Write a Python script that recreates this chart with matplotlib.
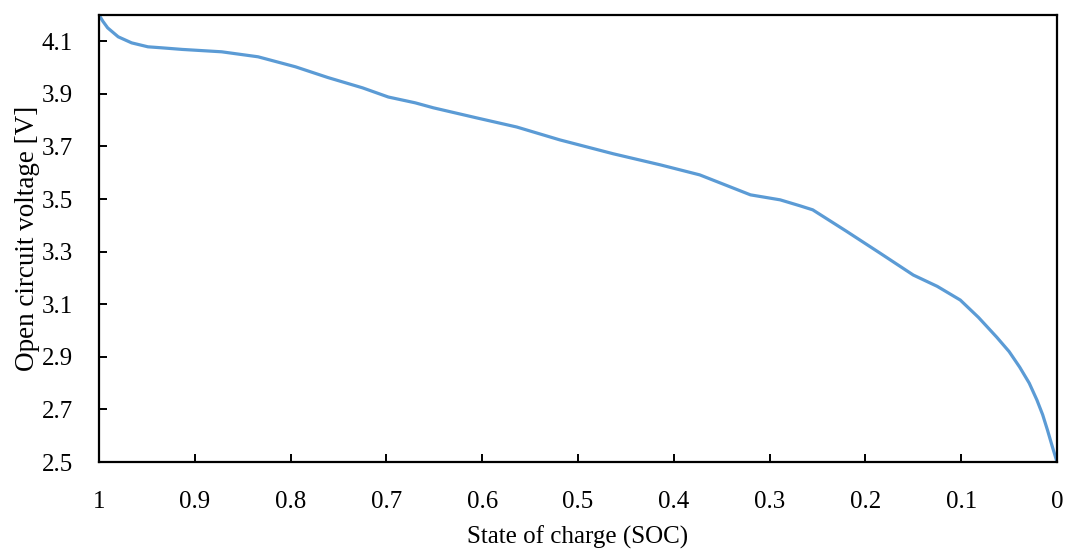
import numpy as np
import matplotlib
matplotlib.use('Agg')
import matplotlib.pyplot as plt

plt.rcParams['font.family'] = ['Liberation Serif', 'DejaVu Serif']

# open circuit voltage against state of charge
soc = [1.0, 0.996, 0.991, 0.980, 0.966, 0.949, 0.934, 0.913, 0.872, 0.834,
       0.795, 0.761, 0.725, 0.698, 0.670, 0.651, 0.605, 0.564, 0.519, 0.463,
       0.414, 0.373, 0.320, 0.289, 0.268, 0.255, 0.220, 0.185, 0.150, 0.125,
       0.101, 0.082, 0.063, 0.050, 0.039, 0.029, 0.021, 0.015, 0.010, 0.005,
       0.0]
ocv = [4.200, 4.176, 4.151, 4.117, 4.094, 4.079, 4.075, 4.069, 4.060, 4.041,
       4.003, 3.962, 3.923, 3.888, 3.866, 3.847, 3.808, 3.774, 3.725, 3.672,
       3.630, 3.592, 3.516, 3.497, 3.474, 3.459, 3.378, 3.295, 3.211, 3.168,
       3.116, 3.050, 2.975, 2.920, 2.861, 2.800, 2.736, 2.680, 2.622, 2.560,
       2.500]

x_ticks = [1, 0.9, 0.8, 0.7, 0.6, 0.5, 0.4, 0.3, 0.2, 0.1, 0]
x_labels = ['1', '0.9', '0.8', '0.7', '0.6', '0.5', '0.4', '0.3', '0.2', '0.1', '0']
y_ticks = [2.5, 2.7, 2.9, 3.1, 3.3, 3.5, 3.7, 3.9, 4.1]

fig = plt.figure(figsize=(10.65, 5.51), dpi=100)
ax = fig.add_axes([0.093, 0.1615, 0.8995, 0.8113])

ax.plot(soc, ocv, color='#5B9BD5', linewidth=2.3, solid_capstyle='round',
        solid_joinstyle='round')

ax.set_xlim(1, 0)
ax.set_ylim(2.5, 4.2)
ax.set_xticks(x_ticks)
ax.set_xticklabels(x_labels)
ax.set_yticks(y_ticks)
ax.set_yticklabels(['%.1f' % v for v in y_ticks])

ax.tick_params(direction='in', length=6, width=1.4, labelsize=18)
ax.tick_params(axis='x', pad=21)
ax.tick_params(axis='y', pad=19)
for s in ax.spines.values():
    s.set_linewidth(1.6)

ax.set_xlabel('State of charge (SOC)', fontsize=18, labelpad=9)
ax.set_ylabel('Open circuit voltage [V]', fontsize=19.5, labelpad=1)

fig.savefig('out.png', dpi=100)
